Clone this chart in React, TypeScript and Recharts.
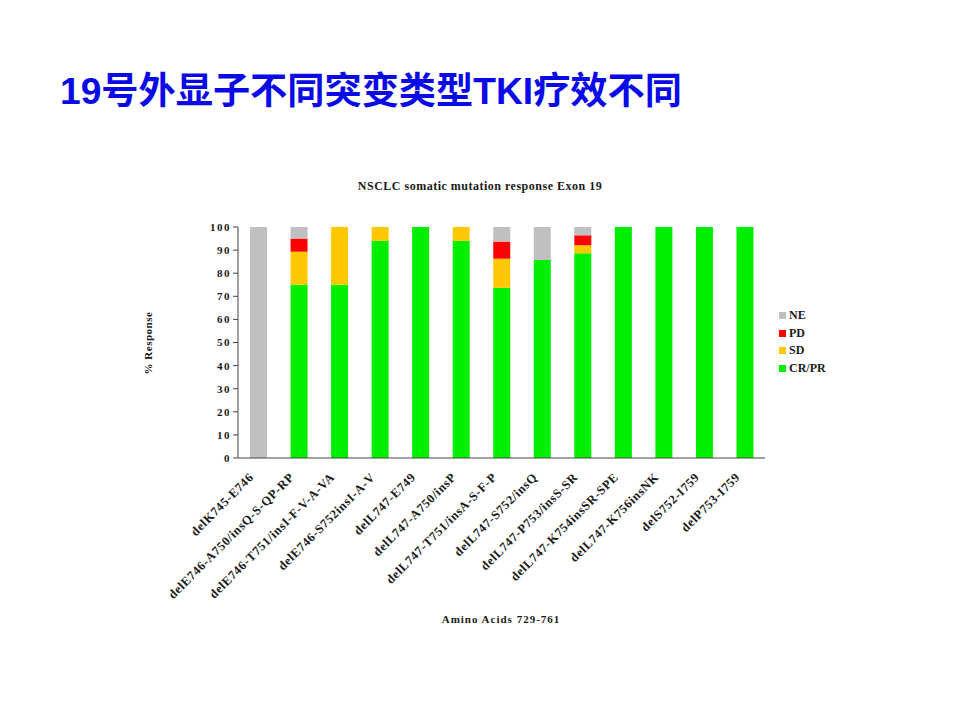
import React from "react";
import { BarChart, Bar, XAxis, YAxis, Legend } from "recharts";

const categories = [
  "delK745-E746",
  "delE746-A750/insQ-S-QP-RP",
  "delE746-T751/insI-F-V-A-VA",
  "delE746-S752insI-A-V",
  "delL747-E749",
  "delL747-A750/insP",
  "delL747-T751/insA-S-F-P",
  "delL747-S752/insQ",
  "delL747-P753/insS-SR",
  "delL747-K754insSR-SPE",
  "delL747-K756insNK",
  "delS752-I759",
  "delP753-I759",
];
const crpr = [0, 75, 75, 94, 100, 94, 73.7, 85.7, 88.6, 100, 100, 100, 100];
const sd = [0, 14.3, 25, 6, 0, 6, 12.6, 0, 3.5, 0, 0, 0, 0];
const pd = [0, 5.7, 0, 0, 0, 0, 7.4, 0, 4.3, 0, 0, 0, 0];
const ne = [100, 5, 0, 0, 0, 0, 6.3, 14.3, 3.6, 0, 0, 0, 0];
const yTicks = [0, 10, 20, 30, 40, 50, 60, 70, 80, 90, 100];
const legendOrder = ["NE", "PD", "SD", "CR/PR"];

const data = categories.map((name, i) => ({
  name,
  crpr: crpr[i],
  sd: sd[i],
  pd: pd[i],
  ne: ne[i],
}));

const serif = "'Liberation Serif', 'DejaVu Serif', serif";
const textColor = "#1a1a1a";

const XTick = (props: any) => {
  const { x, y, payload } = props;
  const ax = x - 4;
  const ay = y + 20;
  return (
    <text
      x={ax}
      y={ay}
      transform={`rotate(-45 ${ax} ${ay})`}
      textAnchor="end"
      fontFamily={serif}
      fontWeight="bold"
      fontSize={12.5}
      letterSpacing={0.6}
      fill={textColor}
    >
      {payload.value}
    </text>
  );
};

const LegendContent = (props: any) => {
  const items = [...(props.payload || [])].sort(
    (a: any, b: any) => legendOrder.indexOf(a.value) - legendOrder.indexOf(b.value)
  );
  return (
    <div style={{ fontFamily: serif, fontWeight: "bold", fontSize: 12, color: textColor }}>
      {items.map((it: any) => (
        <div key={it.value} style={{ display: "flex", alignItems: "center", height: 17.5 }}>
          <span
            style={{
              display: "inline-block",
              width: 7,
              height: 7,
              background: it.color,
              marginRight: 3,
            }}
          />
          <span>{it.value}</span>
        </div>
      ))}
    </div>
  );
};

export default function App() {
  return (
    <div style={{ position: "absolute", left: 0, top: 0, width: 960, height: 720, background: "#fff" }}>
      <div
        style={{
          position: "absolute",
          left: 60,
          top: 73,
          fontFamily: "'Liberation Sans', 'Noto Sans CJK SC', sans-serif",
          fontWeight: "bold",
          fontSize: 37.2,
          lineHeight: 1,
          color: "#0a0ae6",
          whiteSpace: "nowrap",
        }}
      >
        19号外显子不同突变类型TKI疗效不同
      </div>
      <div
        style={{
          position: "absolute",
          left: 0,
          width: 960,
          top: 180,
          textAlign: "center",
          fontFamily: serif,
          fontWeight: "bold",
          fontSize: 12,
          letterSpacing: 0.5,
          color: textColor,
          lineHeight: 1,
        }}
      >
        NSCLC somatic mutation response Exon 19
      </div>
      <div
        style={{
          position: "absolute",
          left: 148,
          top: 343,
          transform: "translate(-50%, -50%) rotate(-90deg)",
          fontFamily: serif,
          fontWeight: "bold",
          fontSize: 11,
          letterSpacing: 0.5,
          color: textColor,
          whiteSpace: "nowrap",
          lineHeight: 1,
        }}
      >
        % Response
      </div>
      <div
        style={{
          position: "absolute",
          left: 501,
          top: 619,
          transform: "translate(-50%, -50%)",
          fontFamily: serif,
          fontWeight: "bold",
          fontSize: 11,
          letterSpacing: 1,
          color: textColor,
          whiteSpace: "nowrap",
          lineHeight: 1,
        }}
      >
        Amino Acids 729-761
      </div>
      <BarChart
        width={960}
        height={720}
        data={data}
        margin={{ top: 227, right: 115, bottom: 142, left: 198 }}
        style={{ position: "absolute", left: 0, top: 0 }}
      >
        <XAxis
          dataKey="name"
          interval={0}
          height={120}
          tickLine={false}
          tickSize={0}
          tickMargin={0}
          tick={<XTick />}
          axisLine={{ stroke: "#444", strokeWidth: 1 }}
        />
        <YAxis
          width={40}
          domain={[0, 100]}
          ticks={yTicks}
          interval={0}
          tickSize={5}
          tickMargin={2}
          axisLine={{ stroke: "#444", strokeWidth: 1 }}
          tickLine={{ stroke: "#444", strokeWidth: 1 }}
          tick={{ fontFamily: serif, fontWeight: "bold", fontSize: 11, letterSpacing: 1.5, fill: textColor }}
        />
        <Legend
          layout="vertical"
          align="right"
          verticalAlign="top"
          content={<LegendContent />}
          wrapperStyle={{ position: "absolute", left: 779, top: 307, width: 80 }}
        />
        <Bar dataKey="crpr" name="CR/PR" stackId="a" fill="#00ee00" barSize={17} isAnimationActive={false} />
        <Bar dataKey="sd" name="SD" stackId="a" fill="#ffc800" barSize={17} isAnimationActive={false} />
        <Bar dataKey="pd" name="PD" stackId="a" fill="#ff0000" barSize={17} isAnimationActive={false} />
        <Bar dataKey="ne" name="NE" stackId="a" fill="#c0c0c0" barSize={17} isAnimationActive={false} />
      </BarChart>
    </div>
  );
}
